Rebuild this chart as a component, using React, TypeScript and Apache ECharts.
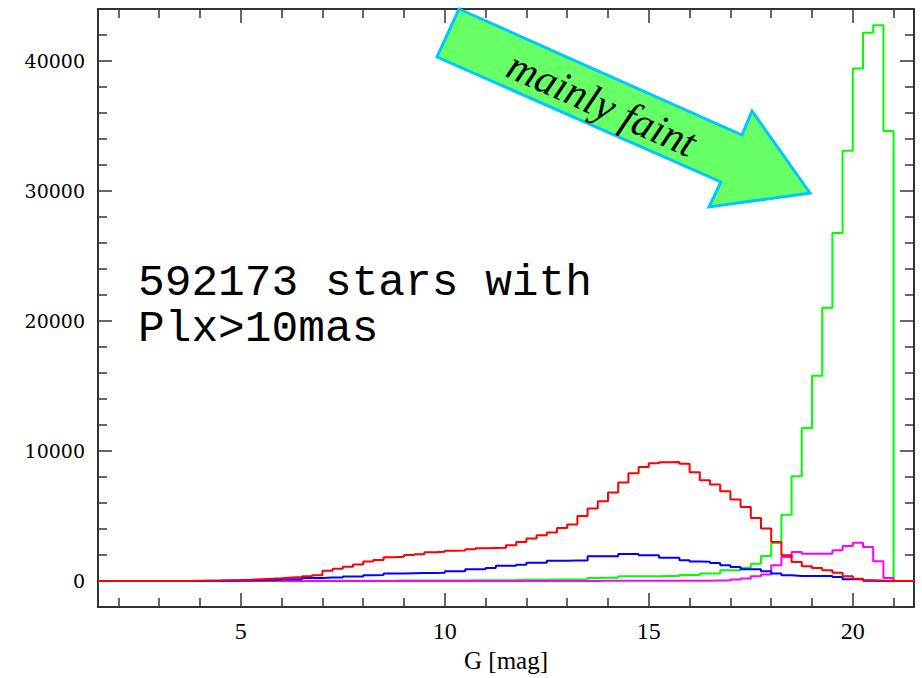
import React, { useEffect, useRef } from "react";
import * as echarts from "echarts";

// Histogram bins: left edges start at 2.0 mag, width 0.25 mag (76 bins, up to 21.0)
const binStart = 2.0;
const binWidth = 0.25;
const xMin = 1.5;
const xMax = 21.5;
const yMin = -2000;
const yMax = 44000;

const redCounts = [
  0, 0, 0, 0,
  0, 5, 10, 20,
  30, 40, 60, 80,
  110, 150, 190, 220,
  270, 310, 370, 450,
  800, 950, 1100, 1280,
  1500, 1620, 1840, 1880,
  2000, 2060, 2220, 2260,
  2330, 2360, 2450, 2530,
  2550, 2560, 2760, 3010,
  3270, 3520, 3730, 4090,
  4350, 5010, 5580, 6140,
  6810, 7580, 8290, 8780,
  9060, 9140, 9160, 9020,
  8380, 7760, 7420, 6910,
  6270, 5700, 4860, 4040,
  3010, 1990, 1470, 1140,
  1010, 830, 650, 370,
  190, 60, 20, 5,
];

const greenCounts = [
  0, 0, 0, 0,
  0, 0, 0, 0,
  0, 0, 5, 5,
  5, 10, 10, 10,
  15, 15, 20, 20,
  20, 25, 25, 30,
  30, 35, 35, 40,
  40, 45, 45, 50,
  50, 55, 60, 60,
  65, 70, 75, 100,
  105, 110, 115, 120,
  130, 150, 240, 250,
  260, 370, 370, 380,
  380, 390, 390, 460,
  470, 575, 575, 830,
  830, 1010, 1340, 1930,
  2930, 5100, 8070, 11770,
  15790, 21030, 26780, 33090,
  39430, 42170, 42750, 34620,
];

const blueCounts = [
  0, 0, 0, 0,
  5, 10, 10, 15,
  20, 25, 30, 50,
  60, 70, 80, 90,
  150, 150, 230, 230,
  280, 280, 360, 360,
  450, 470, 575, 575,
  600, 620, 630, 640,
  755, 755, 908, 908,
  1010, 1189, 1189, 1265,
  1419, 1419, 1560, 1572,
  1580, 1590, 1905, 1905,
  1905, 2083, 2083, 1982,
  1982, 1803, 1803, 1600,
  1500, 1480, 1393, 1214,
  1087, 908, 908, 755,
  575, 447, 396, 396,
  396, 396, 320, 140,
  140, 30, 0, 0,
];

const magentaCounts = [
  0, 0, 0, 0,
  0, 0, 0, 0,
  0, 0, 0, 0,
  0, 0, 0, 0,
  0, 0, 0, 0,
  0, 0, 0, 0,
  0, 0, 0, 0,
  0, 0, 0, 0,
  0, 0, 0, 0,
  0, 0, 0, 0,
  5, 5, 10, 10,
  10, 15, 15, 20,
  20, 20, 25, 25,
  30, 30, 35, 35,
  35, 35, 40, 40,
  115, 192, 370, 500,
  1214, 1853, 2237, 2110,
  2110, 2110, 2365, 2697,
  2953, 2620, 1521, 243,
];

const annotationLine1 = "592173 stars with";
const annotationLine2 = "Plx>10mas";
const arrowLabel = "mainly faint";
const xAxisTitle = "G [mag]";

function toSteps(counts: number[]): number[][] {
  const pts: number[][] = [[xMin, 0]];
  counts.forEach((v, i) => pts.push([binStart + i * binWidth, v]));
  pts.push([binStart + counts.length * binWidth, 0]);
  pts.push([xMax, 0]);
  return pts;
}

const axisColor = "#333";

function makeAxisCommon() {
  return {
    axisLine: { show: true, onZero: false, lineStyle: { color: axisColor, width: 2 } },
    axisTick: { show: true, inside: true, length: 14, lineStyle: { color: axisColor, width: 1.5 } },
    minorTick: { show: true, splitNumber: 5, length: 9, lineStyle: { color: axisColor, width: 1.5 } },
    splitLine: { show: false },
    minorSplitLine: { show: false },
  };
}

export default function App() {
  const ref = useRef<HTMLDivElement>(null);

  useEffect(() => {
    if (!ref.current) return;
    const chart = echarts.init(ref.current, undefined, { renderer: "svg" });

    const lineSeries = (name: string, counts: number[], color: string, z: number) => ({
      name,
      type: "line",
      step: "end",
      data: toSteps(counts),
      showSymbol: false,
      symbol: "none",
      lineStyle: { color, width: 2 },
      z,
      xAxisIndex: 0,
      yAxisIndex: 0,
    });

    const bigText = (text: string, y: number) => ({
      type: "text",
      z: 101,
      x: 138,
      y,
      style: {
        text,
        fontFamily: "Liberation Mono",
        fontSize: 44.5,
        fill: "#000",
        stroke: "#fff",
        lineWidth: 1.2,
        align: "left",
        verticalAlign: "middle",
      },
    });

    chart.setOption({
      animation: false,
      backgroundColor: "#fff",
      grid: { left: 98, right: 8, top: 9, bottom: 69 },
      xAxis: [
        {
          type: "value",
          position: "bottom",
          min: xMin,
          max: xMax,
          splitNumber: 4,
          ...makeAxisCommon(),
          axisLabel: {
            show: true,
            margin: 12,
            color: "#000",
            fontFamily: "Liberation Serif",
            fontSize: 24,
            formatter: (v: number) => (v % 5 === 0 && v > 0 ? String(v) : ""),
          },
          name: xAxisTitle,
          nameLocation: "middle",
          nameGap: 40,
          nameTextStyle: { color: "#000", fontFamily: "Liberation Serif", fontSize: 25 },
        },
        {
          type: "value",
          position: "top",
          min: xMin,
          max: xMax,
          splitNumber: 4,
          ...makeAxisCommon(),
          axisLabel: { show: false },
        },
      ],
      yAxis: [
        {
          type: "value",
          position: "left",
          min: yMin,
          max: yMax,
          splitNumber: 5,
          ...makeAxisCommon(),
          axisLabel: {
            show: true,
            margin: 13,
            color: "#000",
            fontFamily: "DejaVu Serif",
            fontSize: 19,
            formatter: (v: number) => (v % 10000 === 0 ? String(v) : ""),
          },
        },
        {
          type: "value",
          position: "right",
          min: yMin,
          max: yMax,
          splitNumber: 5,
          ...makeAxisCommon(),
          axisLabel: { show: false },
        },
      ],
      series: [
        lineSeries("green", greenCounts, "#00ff00", 2),
        lineSeries("magenta", magentaCounts, "#ff00ff", 3),
        lineSeries("blue", blueCounts, "#0000ff", 4),
        lineSeries("red", redCounts, "#ff0000", 5),
      ],
      graphic: [
        {
          type: "polygon",
          z: 100,
          shape: {
            points: [
              [459, 9],
              [742, 135],
              [752, 111],
              [810, 193],
              [709, 207],
              [721, 182],
              [437, 57],
            ],
          },
          style: { fill: "#66ff66", stroke: "#00c8ff", lineWidth: 3, lineJoin: "miter" },
        },
        {
          type: "text",
          z: 101,
          x: 602,
          y: 104,
          rotation: (-24 * Math.PI) / 180,
          style: {
            text: arrowLabel,
            fontFamily: "Liberation Serif",
            fontStyle: "italic",
            fontSize: 42,
            fill: "#000",
            align: "center",
            verticalAlign: "middle",
          },
        },
        bigText(annotationLine1, 283),
        bigText(annotationLine2, 329),
      ],
    });

    return () => chart.dispose();
  }, []);

  return (
    <div
      ref={ref}
      style={{ position: "fixed", left: 0, top: 0, width: 922, height: 678, background: "#fff" }}
    />
  );
}
